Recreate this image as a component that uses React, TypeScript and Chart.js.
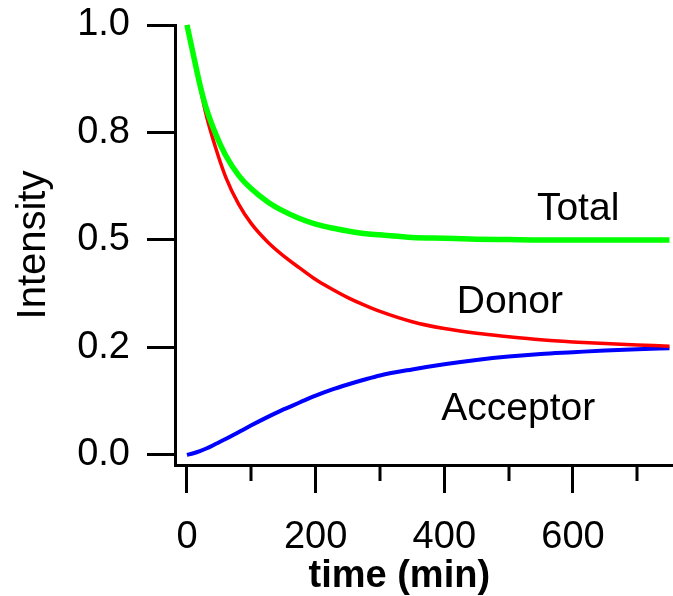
import React, { useEffect, useRef } from "react";
import { Chart, registerables } from "chart.js";

Chart.register(...registerables);

// ---- data ----
const timeMin = [0, 10, 20, 30, 45, 60, 80, 100, 125, 150, 175, 200, 225, 250, 275, 300, 350, 400, 450, 500, 550, 600, 650, 700, 750];
const totalIntensity = [1.0, 0.93, 0.862, 0.806, 0.745, 0.697, 0.651, 0.619, 0.589, 0.567, 0.55, 0.537, 0.528, 0.521, 0.515, 0.512, 0.506, 0.504, 0.502, 0.501, 0.5, 0.5, 0.5, 0.5, 0.5];
const donorIntensity = [1.0, 0.93, 0.858, 0.79, 0.712, 0.647, 0.584, 0.538, 0.496, 0.463, 0.435, 0.408, 0.386, 0.366, 0.349, 0.334, 0.31, 0.294, 0.283, 0.275, 0.268, 0.263, 0.259, 0.256, 0.253];
const acceptorIntensity = [0, 0.004, 0.009, 0.015, 0.026, 0.037, 0.053, 0.069, 0.088, 0.106, 0.122, 0.138, 0.152, 0.164, 0.175, 0.185, 0.199, 0.211, 0.221, 0.229, 0.235, 0.239, 0.243, 0.246, 0.248];

const seriesNames = ["Total", "Donor", "Acceptor"];
const seriesColors = ["#00ff00", "#ff0000", "#0000ff"];
const seriesWidths = [5.5, 3.5, 4];

const yTickValues = [0, 0.25, 0.5, 0.75, 1.0];
const yTickLabels = ["0.0", "0.2", "0.5", "0.8", "1.0"];
const xMajorTicks = [0, 200, 400, 600];
const xMinorTicks = [100, 300, 500, 700];

const labelTimes = [608, 502, 515];
const labelValues = [0.547, 0.33, 0.081];

const xTitle = "time (min)";
const xTitleCenter = 330;
const yTitle = "Intensity";

const FONT = '"Liberation Sans", Arial, Helvetica, sans-serif';

export default function App() {
  const canvasRef = useRef<HTMLCanvasElement | null>(null);

  useEffect(() => {
    const canvas = canvasRef.current;
    if (!canvas) return;

    const overlay = {
      id: "overlay",
      afterDraw(chart: any) {
        const ctx = chart.ctx;
        const xs = chart.scales.x;
        const ys = chart.scales.y;
        const area = chart.chartArea;
        ctx.save();
        // minor ticks on the x axis
        ctx.strokeStyle = "#000";
        ctx.lineWidth = 3;
        xMinorTicks.forEach((t) => {
          const px = Math.round(xs.getPixelForValue(t));
          ctx.beginPath();
          ctx.moveTo(px, area.bottom);
          ctx.lineTo(px, area.bottom + 16);
          ctx.stroke();
        });
        // curve labels
        ctx.fillStyle = "#000";
        ctx.font = `39px ${FONT}`;
        ctx.textAlign = "center";
        ctx.textBaseline = "alphabetic";
        seriesNames.forEach((name, i) => {
          ctx.fillText(name, xs.getPixelForValue(labelTimes[i]), ys.getPixelForValue(labelValues[i]));
        });
        // x axis title
        ctx.font = `bold 38px ${FONT}`;
        ctx.fillText(xTitle, xs.getPixelForValue(xTitleCenter), area.bottom + 122);
        ctx.restore();
      },
    };

    const datasets = [totalIntensity, donorIntensity, acceptorIntensity].map((vals, i) => ({
      label: seriesNames[i],
      data: timeMin.map((t, j) => ({ x: t, y: vals[j] })),
      borderColor: seriesColors[i],
      backgroundColor: seriesColors[i],
      borderWidth: seriesWidths[i],
      pointRadius: 0,
      cubicInterpolationMode: "monotone" as const,
      fill: false,
      clip: false as any,
    }));

    const chart = new Chart(canvas, {
      type: "line",
      data: { datasets },
      plugins: [overlay],
      options: {
        responsive: false,
        animation: false,
        layout: { padding: { top: 25, right: 0, left: 0, bottom: 0 } },
        plugins: {
          legend: { display: false },
          tooltip: { enabled: false },
        },
        scales: {
          x: {
            type: "linear",
            min: -18.65,
            max: 755.5,
            afterBuildTicks: (scale: any) => {
              scale.ticks = xMajorTicks.map((v) => ({ value: v }));
            },
            afterFit: (scale: any) => {
              scale.height = 131;
              scale.paddingLeft = 0;
              scale.paddingRight = 0;
            },
            ticks: {
              color: "#000",
              font: { family: FONT, size: 38 },
              padding: 22,
              maxRotation: 0,
              autoSkip: false,
              callback: (v: any) => String(v),
            },
            grid: {
              drawOnChartArea: false,
              drawTicks: true,
              tickLength: 28,
              tickWidth: 3,
              tickColor: "#000",
            },
            border: { display: true, color: "#000", width: 3 },
            title: { display: false },
          },
          y: {
            type: "linear",
            min: -0.0233,
            max: 1.0,
            afterBuildTicks: (scale: any) => {
              scale.ticks = yTickValues.map((v) => ({ value: v }));
            },
            afterFit: (scale: any) => {
              scale.width = 175;
              scale.paddingTop = 0;
              scale.paddingBottom = 0;
            },
            ticks: {
              color: "#000",
              font: { family: FONT, size: 38 },
              padding: 17,
              autoSkip: false,
              callback: (v: any) => {
                const idx = yTickValues.indexOf(Number(v));
                return idx >= 0 ? yTickLabels[idx] : "";
              },
            },
            grid: {
              drawOnChartArea: false,
              drawTicks: true,
              tickLength: 28,
              tickWidth: 3,
              tickColor: "#000",
            },
            border: { display: true, color: "#000", width: 3 },
            title: {
              display: true,
              text: yTitle,
              color: "#000",
              font: { family: FONT, size: 40 },
              padding: { top: 10, bottom: 0 },
            },
          },
        },
      },
    });

    return () => chart.destroy();
  }, []);

  return (
    <div style={{ position: "absolute", left: 0, top: 0, width: 673, height: 596, background: "#fff" }}>
      <canvas ref={canvasRef} width={673} height={596} style={{ display: "block" }} />
    </div>
  );
}
